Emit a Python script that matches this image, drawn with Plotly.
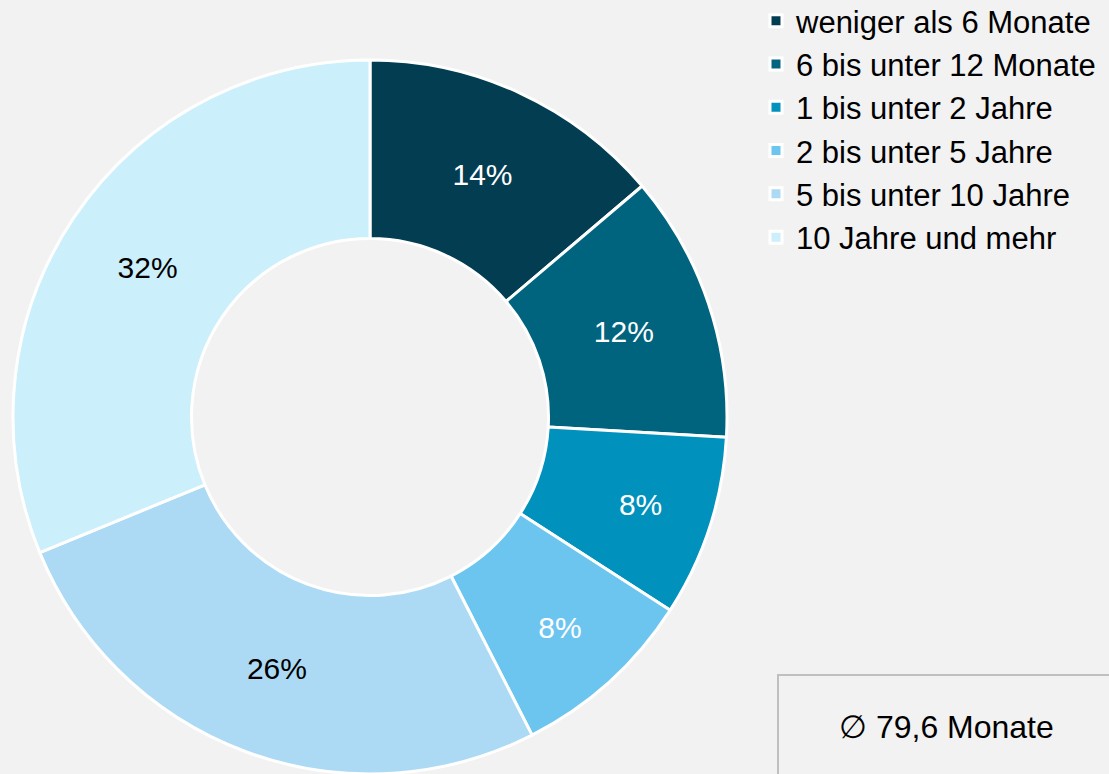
import plotly.graph_objects as go

categories = ["weniger als 6 Monate", "6 bis unter 12 Monate", "1 bis unter 2 Jahre",
              "2 bis unter 5 Jahre", "5 bis unter 10 Jahre", "10 Jahre und mehr"]
shares = [13.8, 12.1, 8.2, 8.4, 26.3, 31.2]
share_labels = ["14%", "12%", "8%", "8%", "26%", "32%"]
colors = ["#023d52", "#00647f", "#0091bd", "#6cc5ef", "#acdaf5", "#cbeffb"]
label_colors = ["white", "white", "white", "white", "black", "black"]
note_text = "∅ 79,6 Monate"

# figure is slightly taller than the window; the bottom few px are cropped
W, H = 1109, 780
font_family = "Liberation Sans, Arial, sans-serif"


def py(pixel_from_top):
    return (H - pixel_from_top) / H


fig = go.Figure(go.Pie(
    labels=categories,
    values=shares,
    text=share_labels,
    textinfo="text",
    hoverinfo="label+percent",
    sort=False,
    direction="clockwise",
    rotation=0,
    hole=0.5,
    marker=dict(colors=colors, line=dict(color="white", width=3)),
    textposition="inside",
    insidetextorientation="horizontal",
    insidetextfont=dict(color=label_colors, size=30, family=font_family),
    domain=dict(x=[13 / W, 727 / W], y=[py(774), py(60)]),
))

fig.add_shape(type="rect", xref="paper", yref="paper",
              x0=778 / W, x1=1.05, y0=-0.05, y1=py(675),
              line=dict(color="#c0c0c0", width=2), fillcolor="rgba(0,0,0,0)")
fig.add_annotation(text=note_text, xref="paper", yref="paper",
                   x=946 / W, y=py(727), xanchor="center", yanchor="middle",
                   showarrow=False, font=dict(size=32, color="black", family=font_family))

fig.update_layout(
    width=W, height=H,
    margin=dict(l=0, r=0, t=0, b=0, autoexpand=False),
    paper_bgcolor="#f2f2f2",
    plot_bgcolor="#f2f2f2",
    font=dict(family=font_family, color="black"),
    showlegend=True,
    legend=dict(x=756 / W, y=py(-6), xanchor="left", yanchor="top",
                font=dict(size=31, color="black", family=font_family),
                bgcolor="rgba(0,0,0,0)", borderwidth=0,
                itemclick=False, itemdoubleclick=False),
)

fig.write_html("out.html", config={"displayModeBar": False},
               post_script="document.body.style.margin='0';document.body.style.overflow='hidden';")
